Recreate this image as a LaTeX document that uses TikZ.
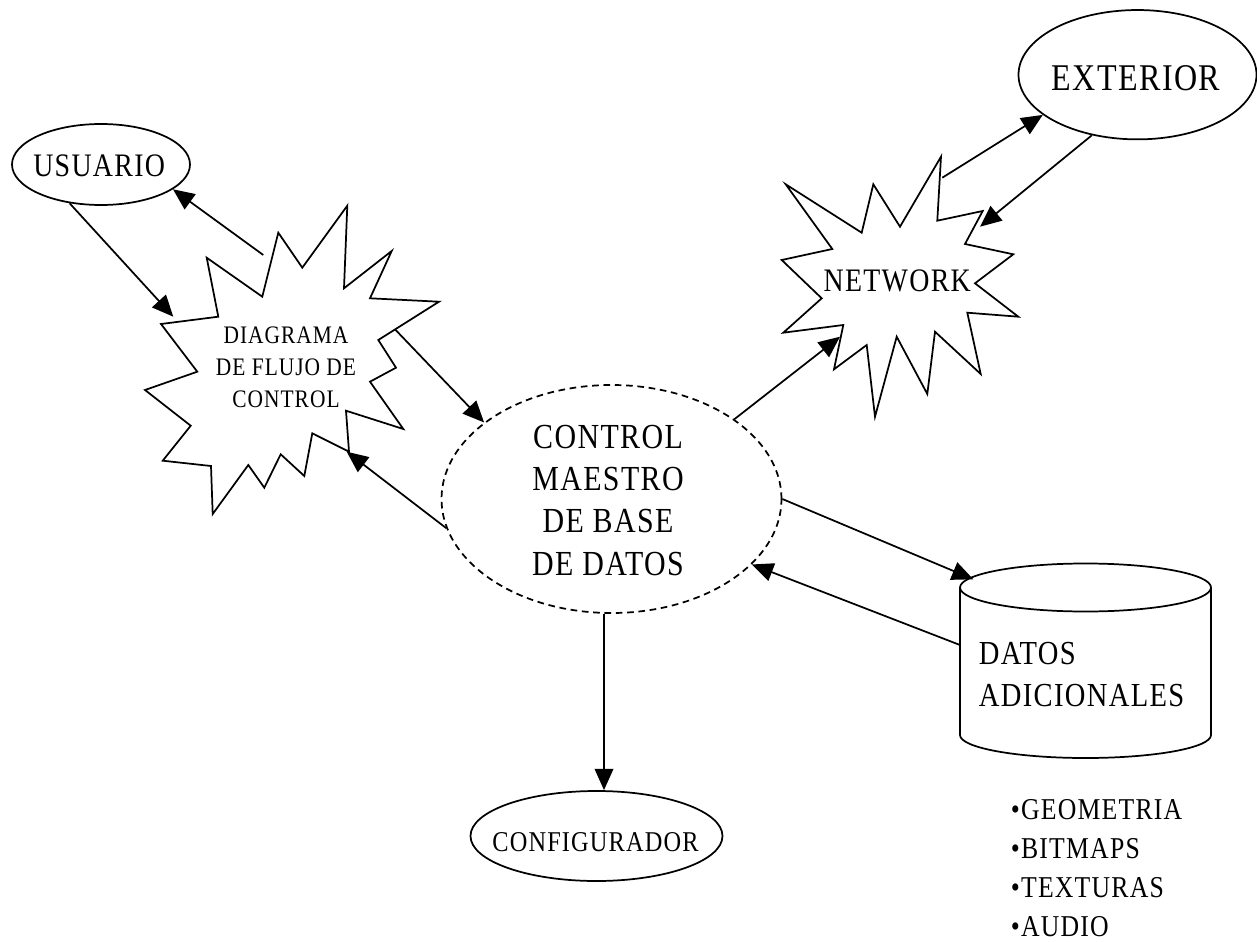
\documentclass[tikz,border=0pt]{standalone}
\usepackage{fontspec}
\setmainfont{Liberation Serif}[FakeStretch=0.85,LetterSpace=4]
\usetikzlibrary{shapes.geometric,arrows.meta}
\begin{document}
\begin{tikzpicture}[x=0.75pt,y=-0.75pt,line width=1.3pt,
  arr/.style={-{Triangle[length=16pt,width=14pt]}},
  oval/.style={ellipse,draw,inner sep=0pt},
  lbl/.style={inner sep=0pt,align=center},
  star/.style={draw,line join=miter}]
\useasboundingbox (0,0) rectangle (1257,942);

% ellipses
\node[oval,minimum width=133.5pt,minimum height=60.75pt] (usr) at (101,164.5) {};
\node[oval,minimum width=178.5pt,minimum height=97pt] (ext) at (1137.5,74.7) {};
\node[oval,dashed,dash pattern=on 5pt off 3.5pt,minimum width=255pt,minimum height=171pt] (ctrl) at (611.5,499) {};
\node[oval,minimum width=189pt,minimum height=67.5pt] (conf) at (596.5,836) {};

% starbursts
\draw[star] (206.7,257.7) -- (218.3,316.7) -- (161,324) -- (197.3,371.7) -- (145,390) -- (190.7,425.7) -- (162.7,460.7) -- (211,466) -- (212.7,514) -- (248.3,465) -- (264.3,487.7) -- (280.7,454.3) -- (304.3,476) -- (312.3,433.3) -- (349,451.7) -- (346,410.7) -- (403.3,429) -- (370,381.7) -- (396,367.7) -- (378.3,340) -- (439,301.7) -- (370,298.3) -- (391.7,251) -- (344,288.3) -- (347.3,205.7) -- (302.3,267.7) -- (278.3,232.7) -- (262.3,296.7) -- cycle;
\draw[star] (785.7,184.3) -- (861.7,232.7) -- (873.3,184.3) -- (900,226.7) -- (941,156.7) -- (937.3,220.7) -- (982.7,211) -- (965,244) -- (1013.3,254.3) -- (975,283.3) -- (1018.3,316.7) -- (967.3,312.7) -- (980.7,374) -- (935,331.7) -- (927.3,394) -- (896.7,336.7) -- (875,416.7) -- (866.7,345) -- (834,369.3) -- (843.3,325) -- (783.3,332.7) -- (821.7,298.3) -- (781.7,260) -- (832.3,249) -- cycle;

% cylinder
\draw (960,587.5) -- (960,735) arc[start angle=180,end angle=0,x radius=125.5,y radius=23] -- (1211,587.5);
\draw (1085.5,587.5) ellipse [x radius=125.5,y radius=24];

% texts
\node[lbl,anchor=base,font=\fontsize{24.6}{29}\selectfont] (usrT) at (99.2,176.7) {USUARIO};
\node[lbl,anchor=base,font=\fontsize{28.3}{33}\selectfont] (extT) at (1135.8,90) {EXTERIOR};
\node[lbl,font=\fontsize{26.4}{31.7}\selectfont] (ctrlT) at (608,500.2) {CONTROL\\MAESTRO\\DE BASE\\DE DATOS};
\node[lbl,font=\fontsize{18.9}{24}\selectfont] (diag) at (286,367) {DIAGRAMA\\DE FLUJO DE\\CONTROL};
\node[lbl,anchor=base,font=\fontsize{24.6}{29}\selectfont] (net) at (897.2,291.7) {NETWORK};
\node[lbl,anchor=west,align=left,font=\fontsize{25.2}{31.5}\selectfont] (datos) at (978,675) {DATOS\\ADICIONALES};
\node[lbl,anchor=base,font=\fontsize{21.5}{25}\selectfont] (confT) at (595.5,851.7) {CONFIGURADOR};
\node[lbl,anchor=west,align=left,font=\fontsize{22.7}{29.2}\selectfont] (items) at (1010,868.4) {•GEOMETRIA\\•BITMAPS\\•TEXTURAS\\•AUDIO};

% connection points
\coordinate (d1) at (173.3,316.7);
\coordinate (d2) at (263.3,255);
\coordinate (d3) at (395,329.3);
\coordinate (d4) at (346.7,451.7);
\coordinate (n1) at (840,336.7);
\coordinate (n2) at (942.3,177.7);
\coordinate (n3) at (980,226.7);
\coordinate (c1) at (973.3,579.3);
\coordinate (c2) at (960,645);
\coordinate (vx) at (604,0);

% connectors
\draw[arr] (usr.231) -- (d1);
\draw[arr] (d2) -- (usr.-19);
\draw[arr] (d3) -- (ctrl.149.7);
\draw[arr] (ctrl.190.8) -- (d4);
\draw[arr] (ctrl.33.1) -- (n1);
\draw[arr] (n2) -- (ext.203.3);
\draw[arr] (ext.233.2) -- (n3);
\draw[arr] (ctrl.0) -- (c1);
\draw[arr] (c2) -- (ctrl.-25.2);
\draw[arr] (ctrl.south -| vx) -- (conf.north -| vx);
\end{tikzpicture}
\end{document}
